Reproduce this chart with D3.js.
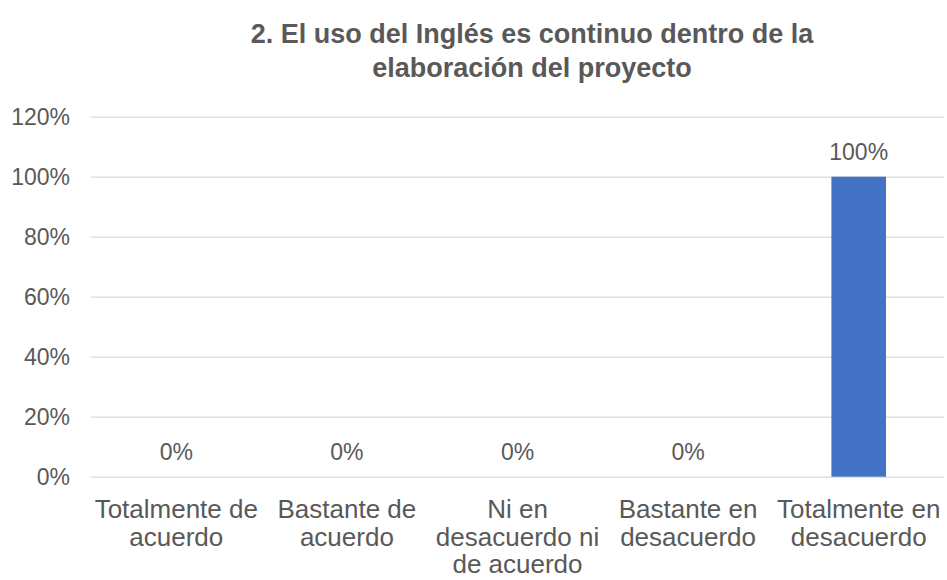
<!DOCTYPE html>
<html>
<head>
<meta charset="utf-8">
<script src="https://cdn.jsdelivr.net/npm/d3@7"></script>
<style>
  html, body { margin: 0; padding: 0; background: #fff; }
  svg { display: block; font-family: "Liberation Sans", Arial, sans-serif; }
</style>
</head>
<body>
<svg id="chart" width="947" height="580"></svg>
<script>
// Chart data
const titleLines = ["2. El uso del Inglés es continuo dentro de la", "elaboración del proyecto"];
const categories = ["Totalmente de acuerdo", "Bastante de acuerdo", "Ni en desacuerdo ni de acuerdo", "Bastante en desacuerdo", "Totalmente en desacuerdo"];
const values = [0, 0, 0, 0, 1.0];
const yTicks = [0, 0.2, 0.4, 0.6, 0.8, 1.0, 1.2];

const W = 947, H = 580;
const plot = { left: 91, right: 944, top: 116.7, bottom: 476.7 };
const textColor = "#595959";
const gridColor = "#d9d9d9";
const barColor = "#4472c4";

const svg = d3.select("#chart");

const x = d3.scaleBand()
  .domain(categories)
  .range([plot.left, plot.right])
  .paddingInner(0.68)
  .paddingOuter(0.34);

const y = d3.scaleLinear()
  .domain([0, 1.2])
  .range([plot.bottom, plot.top]);

const pct = d3.format(".0%");

// Title
svg.append("text")
  .attr("x", 532)
  .attr("y", 43)
  .attr("text-anchor", "middle")
  .attr("fill", textColor)
  .style("font-size", "27px")
  .style("font-weight", "bold")
  .selectAll("tspan")
  .data(titleLines)
  .join("tspan")
  .attr("x", 532)
  .attr("dy", (d, i) => i === 0 ? 0 : 34)
  .text(d => d);

// Horizontal gridlines + y axis labels
const yAxis = d3.axisLeft(y)
  .tickValues(yTicks)
  .tickFormat(pct)
  .tickSize(-(plot.right - plot.left))
  .tickPadding(21);

const gy = svg.append("g")
  .attr("transform", `translate(${plot.left},0)`)
  .call(yAxis);
gy.select(".domain").remove();
gy.selectAll(".tick line").attr("stroke", gridColor).attr("stroke-width", 1.3);
gy.selectAll(".tick text")
  .attr("fill", textColor)
  .style("font-size", "23px")
  .style("font-family", "'Liberation Sans', Arial, sans-serif");

// Bars
const bw = x.bandwidth();
svg.append("g")
  .selectAll("rect")
  .data(categories.map((c, i) => ({ c, v: values[i] })))
  .join("rect")
  .attr("x", d => x(d.c))
  .attr("width", bw)
  .attr("y", d => y(d.v))
  .attr("height", d => y(0) - y(d.v))
  .attr("fill", barColor);

// Value labels
svg.append("g")
  .selectAll("text")
  .data(categories.map((c, i) => ({ c, v: values[i] })))
  .join("text")
  .attr("x", d => x(d.c) + bw / 2)
  .attr("y", d => y(d.v) - 16.5)
  .attr("text-anchor", "middle")
  .attr("fill", textColor)
  .style("font-size", "23px")
  .text(d => pct(d.v));

// Category axis labels, wrapped to the category slot width
const slot = x.step();
const gx = svg.append("g");
categories.forEach(cat => {
  const t = gx.append("text")
    .attr("text-anchor", "middle")
    .attr("fill", textColor)
    .style("font-size", "26px");
  const cx = x(cat) + bw / 2;
  const words = cat.split(" ");
  const lines = [];
  let line = [];
  const probe = t.append("tspan");
  words.forEach(w => {
    const trial = line.concat(w).join(" ");
    probe.text(trial);
    if (probe.node().getComputedTextLength() > slot + 4 && line.length) {
      lines.push(line.join(" "));
      line = [w];
    } else {
      line.push(w);
    }
  });
  lines.push(line.join(" "));
  probe.remove();
  lines.forEach((l, i) => {
    t.append("tspan")
      .attr("x", cx)
      .attr("y", 518 + i * 27.5)
      .text(l);
  });
});
</script>
</body>
</html>
